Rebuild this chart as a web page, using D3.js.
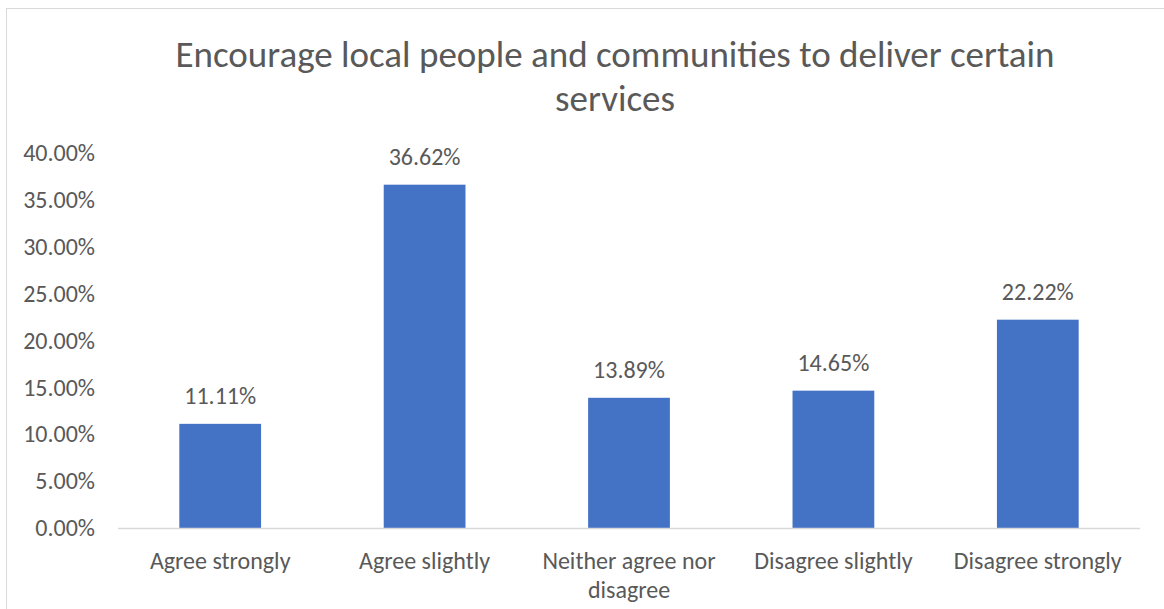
<!DOCTYPE html>
<html>
  <head>
    <meta charset="utf-8" />
    <title>Encourage local people</title>
    <script src="https://d3js.org/d3.v7.min.js"></script>
    <style>
        body{
            margin:0;
            background:#fff;
        }
        text{
            font-family: Carlito, "Open Sans", sans-serif;
            fill:#595959;
        }
    </style>
  </head>
  <body>
    <svg id="chart"></svg>
    <script>
      var categories = ["Agree strongly", "Agree slightly", "Neither agree nor disagree", "Disagree slightly", "Disagree strongly"];
      var values = [0.1111, 0.3662, 0.1389, 0.1465, 0.2222];
      var yTicks = [0, 0.05, 0.10, 0.15, 0.20, 0.25, 0.30, 0.35, 0.40];
      var titleLines = ["Encourage local people and communities to deliver certain", "services"];

      var width = 1164;
      var height = 609;
      var margin = {top: 153, right: 24, bottom: 81, left: 118};

      var svg = d3.select("#chart")
        .attr("width", width)
        .attr("height", height);

      // outer frame
      svg.append("rect")
        .attr("x", 6.5)
        .attr("y", 8.5)
        .attr("width", width + 20)
        .attr("height", height + 20)
        .attr("fill", "none")
        .attr("stroke", "#d9d9d9");

      svg.append("text")
        .attr("text-anchor", "middle")
        .attr("font-size", 37)
        .selectAll("tspan")
        .data(titleLines)
        .enter().append("tspan")
        .attr("x", 615)
        .attr("y", function(d, i) { return 67 + i * 44; })
        .text(function(d) { return d; });

      var x = d3.scaleBand()
        .domain(categories)
        .range([margin.left, width - margin.right])
        .paddingInner(0.6)
        .paddingOuter(0.3);

      var y = d3.scaleLinear()
        .domain([0, 0.4])
        .range([height - margin.bottom, margin.top]);

      var yAxis = d3.axisLeft(y)
        .tickValues(yTicks)
        .tickSize(0)
        .tickPadding(23)
        .tickFormat(d3.format(".2%"));

      svg.append("g")
        .attr("transform", "translate(" + margin.left + ",0)")
        .call(yAxis)
        .call(function(g) { g.select(".domain").remove(); })
        .selectAll("text")
        .attr("font-size", 24)
        .style("fill", "#595959");

      // bars
      svg.append("g").selectAll("rect")
        .data(values)
        .enter().append("rect")
        .attr("x", function(d, i) { return x(categories[i]); })
        .attr("width", x.bandwidth())
        .attr("y", function(d) { return y(d); })
        .attr("height", function(d) { return y(0) - y(d); })
        .attr("fill", "#4472c4");

      // data labels
      svg.append("g").selectAll("text")
        .data(values)
        .enter().append("text")
        .attr("text-anchor", "middle")
        .attr("font-size", 24)
        .attr("x", function(d, i) { return x(categories[i]) + x.bandwidth() / 2; })
        .attr("y", function(d) { return y(d) - 20; })
        .text(function(d) { return d3.format(".2%")(d); });

      // baseline
      svg.append("line")
        .attr("x1", margin.left)
        .attr("x2", width - margin.right)
        .attr("y1", y(0) + 0.5)
        .attr("y2", y(0) + 0.5)
        .attr("stroke", "#d9d9d9")
        .attr("stroke-width", 1.5);

      // category labels, wrapped like the original
      var catLines = {"Neither agree nor disagree": ["Neither agree nor", "disagree"]};
      var xLabels = svg.append("g").selectAll("text")
        .data(categories)
        .enter().append("text")
        .attr("text-anchor", "middle")
        .attr("font-size", 24);

      xLabels.each(function(d) {
        var lines = catLines[d] || [d];
        var t = d3.select(this);
        lines.forEach(function(l, i) {
          t.append("tspan")
            .attr("x", x(d) + x.bandwidth() / 2)
            .attr("y", y(0) + 41 + i * 29)
            .text(l);
        });
      });
    </script>
  </body>
</html>
